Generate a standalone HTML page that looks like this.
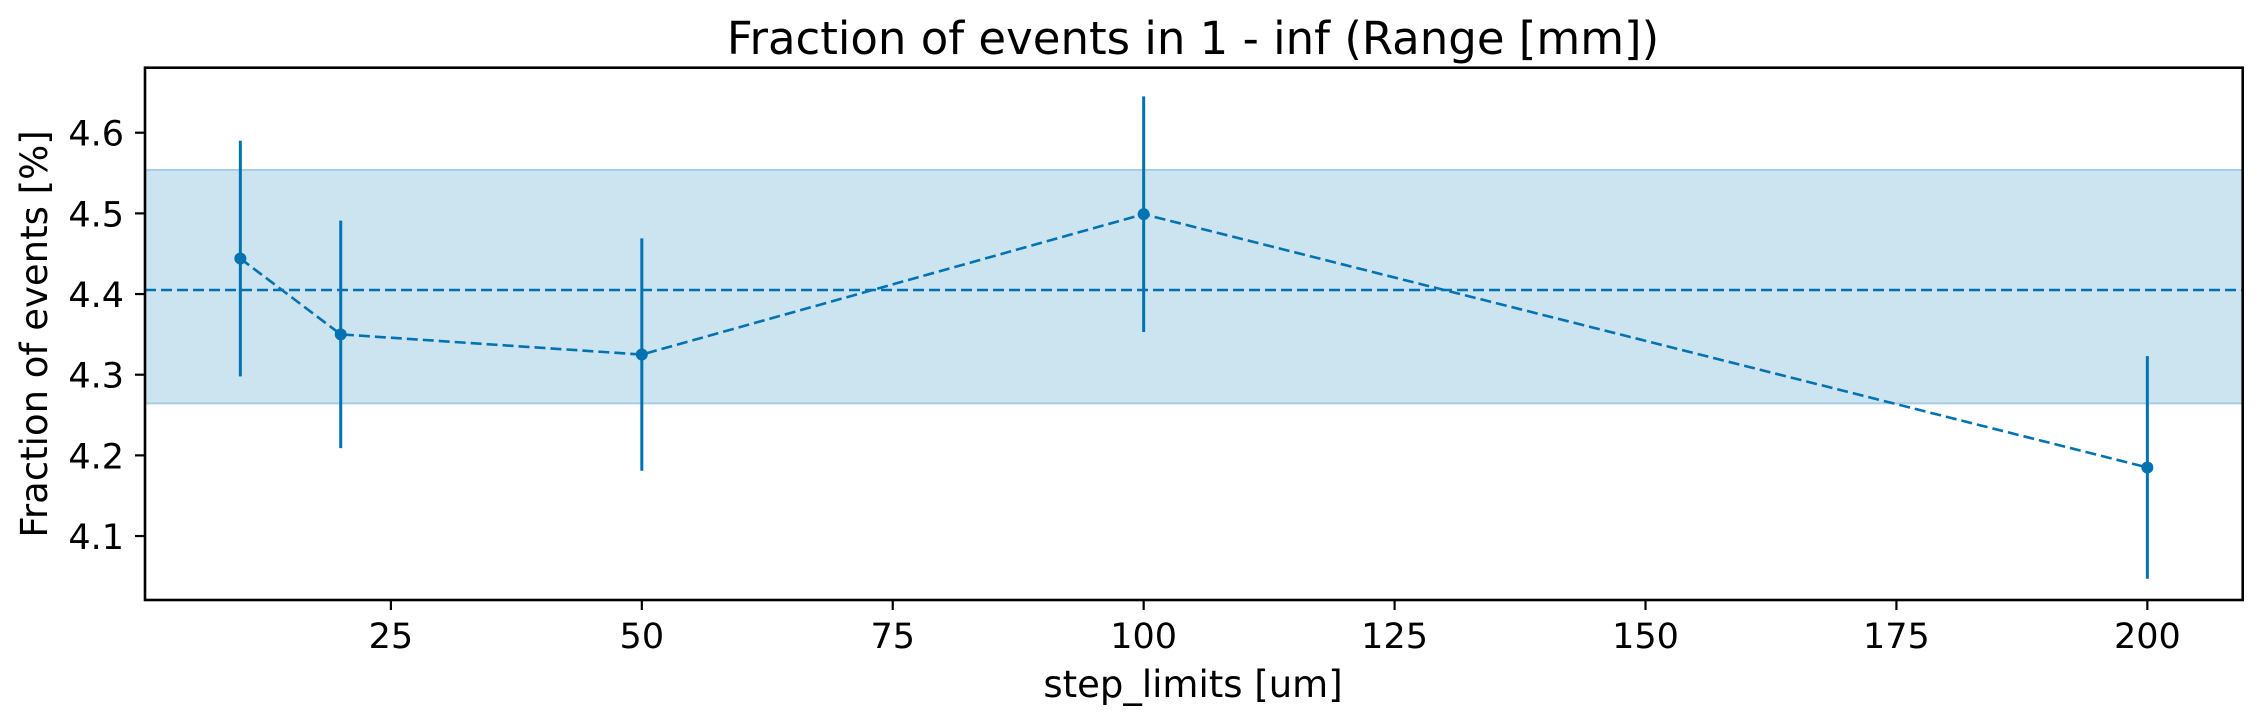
<!DOCTYPE html>
<html><head><meta charset="utf-8"><style>
html,body{margin:0;padding:0;background:#fff;}
svg{display:block;font-family:"DejaVu Sans","Liberation Sans",sans-serif;}
</style></head><body>
<svg id="chart" width="2261" height="725" xmlns="http://www.w3.org/2000/svg">
<text x="1193" y="54" font-size="45" text-anchor="middle">Fraction of events in 1 - inf (Range [mm])</text>
<text x="1193" y="697" font-size="37" text-anchor="middle">step_limits [um]</text>
<text transform="translate(47,334) rotate(-90)" font-size="37" text-anchor="middle">Fraction of events [%]</text>
<g id="plot"></g>
</svg>
<script>
const categories = [10, 20, 50, 100, 200];
const values = [4.444, 4.350, 4.325, 4.499, 4.185];
const errors = [0.146, 0.141, 0.144, 0.146, 0.138];
const meanValue = 4.405;
const bandLow = 4.2645;
const bandHigh = 4.5538;
const xTicks = [25, 50, 75, 100, 125, 150, 175, 200];
const yTicks = [4.1, 4.2, 4.3, 4.4, 4.5, 4.6];

const L=145, R=2242.7, T=67.7, B=600;
const xMin=0.5, xMax=209.5, yMin=4.0207, yMax=4.6806;
const X=v=>L+(v-xMin)/(xMax-xMin)*(R-L);
const Y=v=>B-(v-yMin)/(yMax-yMin)*(B-T);
const C='#0173b2';
const NS='http://www.w3.org/2000/svg';
const g=document.getElementById('plot');
function mk(tag,attrs,parent){const e=document.createElementNS(NS,tag);for(const k in attrs)e.setAttribute(k,attrs[k]);(parent||g).appendChild(e);return e;}

const band=mk('rect',{x:L,y:Y(bandHigh),width:R-L,height:Y(bandLow)-Y(bandHigh),fill:'#cce3f0',stroke:'#a9cde6','stroke-width':2});



const mean=mk('line',{x1:L,x2:R,y1:Y(meanValue),y2:Y(meanValue),stroke:C,'stroke-width':2.6,'stroke-dasharray':'11,5'});



const pts=categories.map((c,i)=>X(c)+','+Y(values[i])).join(' ');
const line=mk('polyline',{points:pts,fill:'none',stroke:C,'stroke-width':2.6,'stroke-dasharray':'11,5'});



categories.forEach((c,i)=>{
  const eb=mk('line',{x1:X(c),x2:X(c),y1:Y(values[i]+errors[i]),y2:Y(values[i]-errors[i]),stroke:C,'stroke-width':3});
  
  
  const p=mk('circle',{cx:X(c),cy:Y(values[i]),r:6,fill:C});
  
  
});

const frame=mk('rect',{x:L,y:T,width:R-L,height:B-T,fill:'none',stroke:'#000','stroke-width':2.6});



xTicks.forEach(t=>{
  const tk=mk('line',{x1:X(t),x2:X(t),y1:B,y2:B+10,stroke:'#000','stroke-width':2.2});
  
  
  const tx=mk('text',{x:X(t),y:B+48,'font-size':35,'text-anchor':'middle'});
  tx.textContent=t;
  
  
});
yTicks.forEach(t=>{
  const tk=mk('line',{x1:L-10,x2:L,y1:Y(t),y2:Y(t),stroke:'#000','stroke-width':2.2});
  
  
  const tx=mk('text',{x:L-21,y:Y(t)+13,'font-size':35,'text-anchor':'end'});
  tx.textContent=t.toFixed(1);
  
  
});
</script>
</body></html>
